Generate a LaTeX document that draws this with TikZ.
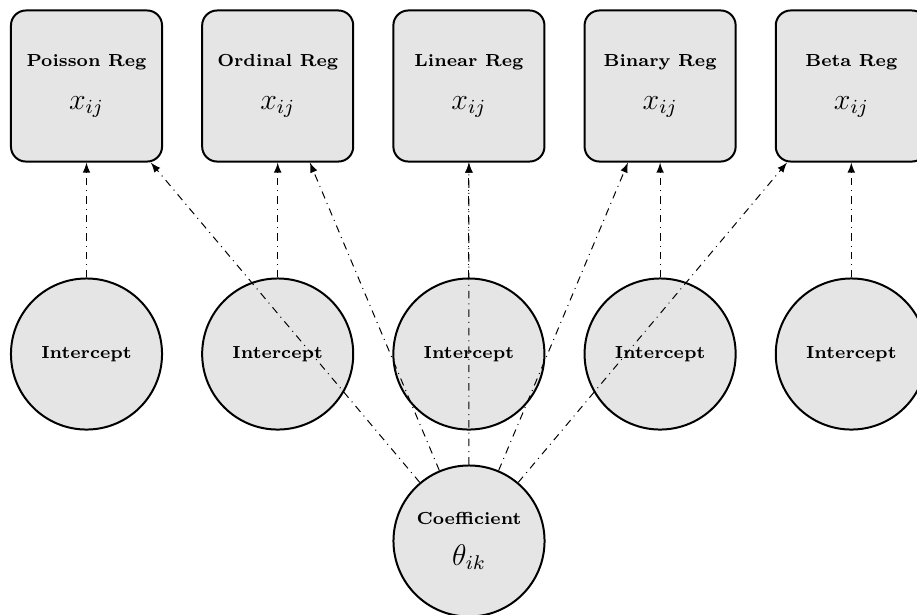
\documentclass[tikz,border=0pt]{standalone}
\usetikzlibrary{arrows}

\tikzset{
  regbox/.style={draw,thick,fill=gray!20,rounded corners=6pt,minimum size=2.13cm,align=center,font=\scriptsize\bfseries},
  parcirc/.style={draw,thick,fill=gray!20,circle,minimum size=2.13cm,inner sep=0pt,align=center,font=\scriptsize\bfseries},
  link/.style={dashdotted,-latex}
}

\begin{document}
\begin{tikzpicture}[x=0.0141cm,y=-0.0141cm]
            \useasboundingbox (0,0) rectangle (917,614);
            % outcome boxes and intercepts
            \foreach \name/\lab [count=\i from 0] in {pois/Poisson Reg,ord/Ordinal Reg,lin/Linear Reg,bin/Binary Reg,beta/Beta Reg} {
              \node[regbox] (\name) at (86.5+191.2*\i,86) {\lab\\[9pt]{\large\normalfont $x_{ij}$}};
              \node[parcirc] (int-\name) at (86.5+191.2*\i,354) {Intercept};
            }
            \node[parcirc] (coef) at (469,541) {Coefficient\\[7pt]{\large\normalfont $\theta_{ik}$}};
            % arrows
            \foreach \name in {pois,ord,lin,bin,beta} {
              \draw[link] (int-\name) -- (\name);
              \draw[link] (coef) -- (\name);
            }
        \end{tikzpicture}
\end{document}
